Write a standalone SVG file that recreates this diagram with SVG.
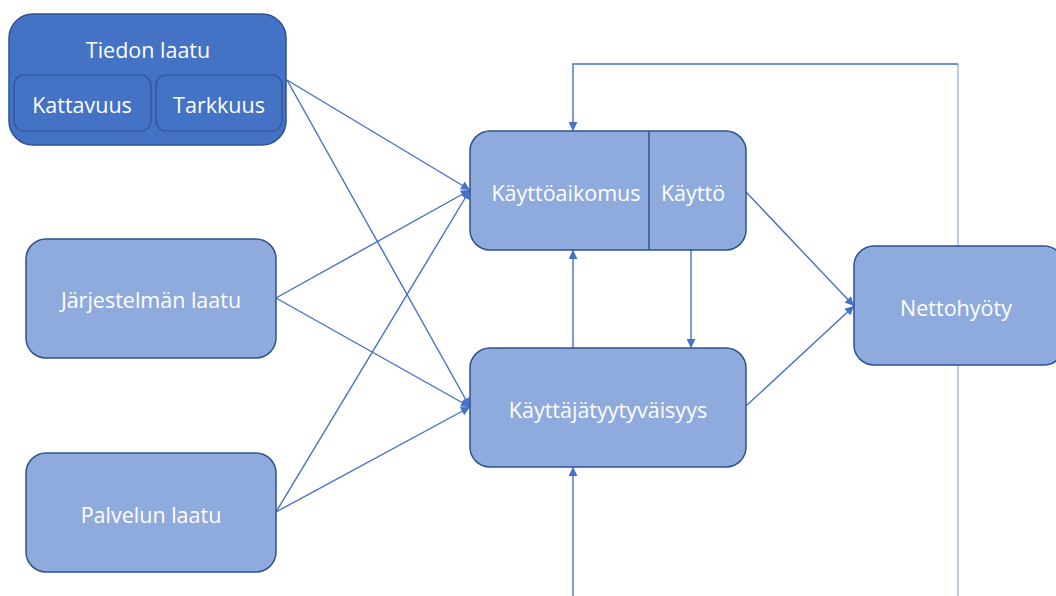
<svg xmlns="http://www.w3.org/2000/svg" width="1056" height="596" viewBox="0 0 1056 596">
  <style>
    .box { fill: #8FAADC; stroke: #2F528F; stroke-width: 1.5; }
    .dark { fill: #4472C4; stroke: #2F528F; stroke-width: 1.5; }
    .inner { fill: #4472C4; stroke: #2F528F; stroke-width: 1.2; }
    .lbl { font-family: "Open Sans", "Liberation Sans", sans-serif; font-size: 21.5px; fill: #FFFFFF; text-anchor: middle; dominant-baseline: central; }
    .con { fill: none; stroke: #4472C4; stroke-width: 1.4; }
    .con-light { fill: none; stroke: #9DB4E0; stroke-width: 1.4; }
  </style>
  <defs>
    <marker id="arrow" viewBox="0 0 10 10" refX="10" refY="5" markerWidth="10" markerHeight="9" markerUnits="userSpaceOnUse" orient="auto">
      <path d="M0,0 L10,5 L0,10 Z" fill="#4472C4"/>
    </marker>
  </defs>

  <!-- connectors -->
  <g id="connectors">
    <!-- Tiedon laatu -->
    <line class="con" x1="287" y1="80" x2="470" y2="190" marker-end="url(#arrow)"/>
    <line class="con" x1="287" y1="80" x2="470" y2="407" marker-end="url(#arrow)"/>
    <!-- Järjestelmän laatu -->
    <line class="con" x1="276" y1="298" x2="470" y2="190" marker-end="url(#arrow)"/>
    <line class="con" x1="276" y1="298" x2="470" y2="407" marker-end="url(#arrow)"/>
    <!-- Palvelun laatu -->
    <line class="con" x1="276" y1="512" x2="470" y2="190" marker-end="url(#arrow)"/>
    <line class="con" x1="276" y1="512" x2="470" y2="407" marker-end="url(#arrow)"/>
    <!-- between the centre boxes -->
    <line class="con" x1="573" y1="348" x2="573" y2="250" marker-end="url(#arrow)"/>
    <line class="con" x1="691" y1="250" x2="691" y2="348" marker-end="url(#arrow)"/>
    <!-- to Nettohyöty -->
    <line class="con" x1="746" y1="192" x2="854" y2="306" marker-end="url(#arrow)"/>
    <line class="con" x1="746" y1="406" x2="854" y2="306" marker-end="url(#arrow)"/>
    <!-- feedback loop over the top -->
    <line class="con-light" x1="958" y1="596" x2="958" y2="64"/>
    <path class="con" d="M958,64 L573,64 L573,131" marker-end="url(#arrow)"/>
    <!-- from below into Käyttäjätyytyväisyys -->
    <line class="con" x1="573" y1="596" x2="573" y2="467" marker-end="url(#arrow)"/>
  </g>

  <!-- Tiedon laatu with its two parts -->
  <g id="tiedon-laatu">
    <rect class="dark" x="9" y="14" width="277" height="131" rx="24"/>
    <text class="lbl" x="148" y="49">Tiedon laatu</text>
    <g id="kattavuus">
      <rect class="inner" x="14" y="75" width="137" height="56" rx="10"/>
      <text class="lbl" x="82" y="104">Kattavuus</text>
    </g>
    <g id="tarkkuus">
      <rect class="inner" x="156" y="75" width="126" height="56" rx="10"/>
      <text class="lbl" x="219" y="104">Tarkkuus</text>
    </g>
  </g>

  <g id="jarjestelman-laatu">
    <rect class="box" x="26" y="239" width="250" height="119" rx="20"/>
    <text class="lbl" x="151" y="299">Järjestelmän laatu</text>
  </g>

  <g id="palvelun-laatu">
    <rect class="box" x="26" y="453" width="250" height="119" rx="20"/>
    <text class="lbl" x="151" y="514">Palvelun laatu</text>
  </g>

  <g id="kayttoaikomus-kaytto">
    <rect class="box" x="470" y="131" width="276" height="119" rx="20"/>
    <line x1="649" y1="131" x2="649" y2="250" stroke="#2F528F" stroke-width="1.5"/>
    <text class="lbl" x="566" y="192">Käyttöaikomus</text>
    <text class="lbl" x="693" y="192">Käyttö</text>
  </g>

  <g id="kayttajatyytyvaisyys">
    <rect class="box" x="470" y="348" width="276" height="119" rx="20"/>
    <text class="lbl" x="608" y="409">Käyttäjätyytyväisyys</text>
  </g>

  <g id="nettohyoty">
    <rect class="box" x="854" y="246" width="210" height="119" rx="20"/>
    <text class="lbl" x="956" y="307">Nettohyöty</text>
  </g>
</svg>
